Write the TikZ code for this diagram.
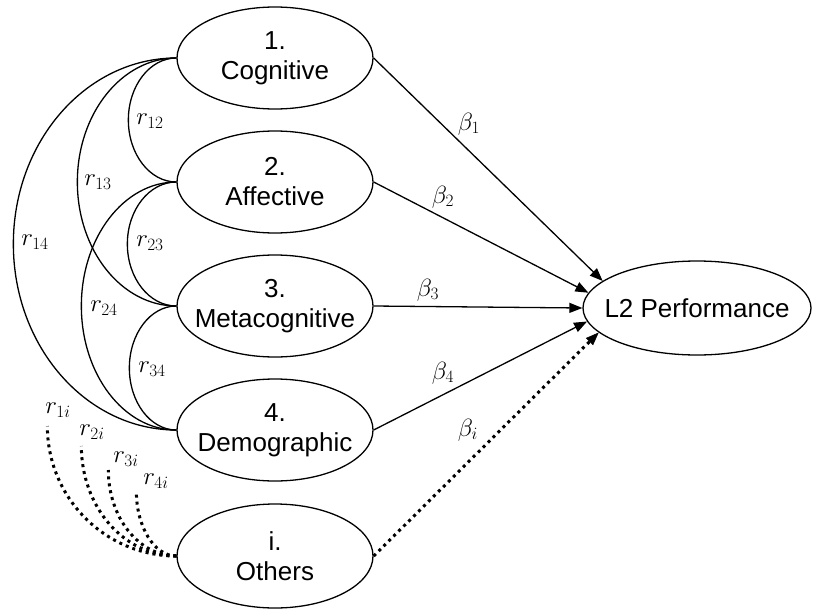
\documentclass[tikz,border=0pt]{standalone}
\usepackage{fontspec}
\setmainfont{Liberation Sans}
\usetikzlibrary{shapes.geometric,arrows.meta}
\begin{document}
\begin{tikzpicture}[x=1pt,y=-1pt,
  latent/.style={ellipse,draw,line width=1.3pt,minimum width=196pt,minimum height=102pt,inner sep=0pt},
  txt/.style={inner sep=0pt,align=center,font=\fontsize{26}{30}\selectfont},
  arr/.style={line width=1.3pt,-{Triangle[length=13pt,width=10pt]}},
  corr/.style={line width=1.3pt},
  dotsq/.style={line width=3pt,dash pattern=on 3pt off 4pt},
  darr/.style={dotsq,-{Triangle[length=13pt,width=10pt,line width=0.5pt]}},
  lab/.style={inner sep=0pt,font=\fontsize{24}{28}\selectfont}]
\useasboundingbox (0,0) rectangle (813,610);
% latent variables
\node[latent] (c1) at (275,58) {};
\node[latent] (c2) at (275,182) {};
\node[latent] (c3) at (275,306) {};
\node[latent] (c4) at (275,430) {};
\node[latent,minimum height=104pt] (oth) at (275,556) {};
\node[latent,minimum width=228pt,minimum height=94pt] (L2) at (697,308) {};
\node[txt] (t1) at (c1) {1.\\Cognitive};
\node[txt] (t2) at (c2) {2.\\Affective};
\node[txt] (t3) at (c3) {3.\\Metacognitive};
\node[txt] (t4) at (c4) {4.\\Demographic};
\node[txt] (ti) at (oth) {i.\\Others};
\node[txt] (tL) at (L2) {L2 Performance};
% paths to L2
\draw[arr] (c1.east) -- (L2.164);
\draw[arr] (c2.east) -- (L2.172);
\draw[arr] (c3.east) -- (L2.180);
\draw[arr] (c4.east) -- (L2.187);
\draw[darr] (oth.east) -- (L2.194);
% correlations
\draw[corr] (c1.west) arc[start angle=90,end angle=270,x radius=48pt,y radius=62pt];
\draw[corr] (c1.west) arc[start angle=90,end angle=270,x radius=99pt,y radius=124pt];
\draw[corr] (c1.west) arc[start angle=90,end angle=270,x radius=163pt,y radius=186pt];
\draw[corr] (c2.west) arc[start angle=90,end angle=270,x radius=49pt,y radius=62pt];
\draw[corr] (c2.west) arc[start angle=90,end angle=270,x radius=95pt,y radius=124pt];
\draw[corr] (c3.west) arc[start angle=90,end angle=270,x radius=47pt,y radius=62pt];
% dotted correlations with others
\draw[dotsq] (oth.west) arc[start angle=270,end angle=180,x radius=129pt,y radius=130pt] coordinate (d1);
\draw[dotsq] (oth.west) arc[start angle=270,end angle=180,x radius=95pt,y radius=110pt] coordinate (d2);
\draw[dotsq] (oth.west) arc[start angle=270,end angle=180,x radius=68pt,y radius=86pt] coordinate (d3);
\draw[dotsq] (oth.west) arc[start angle=270,end angle=180,x radius=40pt,y radius=65pt] coordinate (d4);
% labels
\node[lab] (r12) at (150,121) {$r_{12}$};
\node[lab] (r13) at (98,182) {$r_{13}$};
\node[lab] (r14) at (35,242) {$r_{14}$};
\node[lab] (r23) at (150,243) {$r_{23}$};
\node[lab] (r24) at (104,308) {$r_{24}$};
\node[lab] (r34) at (152,369) {$r_{34}$};
\node[lab] (r1i) at (58,410) {$r_{1i}$};
\node[lab] (r2i) at (92,432) {$r_{2i}$};
\node[lab] (r3i) at (126,459) {$r_{3i}$};
\node[lab] (r4i) at (156,481) {$r_{4i}$};
\node[lab] (b1) at (469,124) {$\beta_1$};
\node[lab] (b2) at (443,197) {$\beta_2$};
\node[lab] (b3) at (428,290) {$\beta_3$};
\node[lab] (b4) at (443,373) {$\beta_4$};
\node[lab] (bi) at (468,430) {$\beta_i$};
\end{tikzpicture}
\end{document}
